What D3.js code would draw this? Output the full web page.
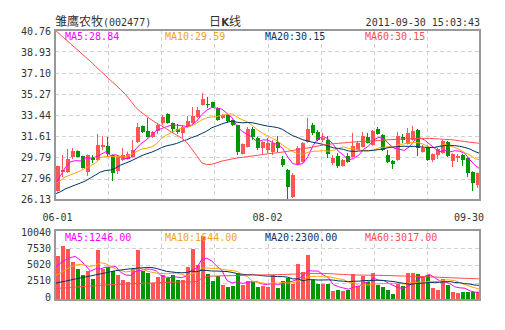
<!DOCTYPE html>
<html>
<head>
<meta charset="utf-8">
<script src="https://cdn.jsdelivr.net/npm/d3@7"></script>
<style>
  body { margin: 0; background: #fff; }
  svg { display: block; }
  .num { font-family: "DejaVu Sans Mono", "Liberation Mono", monospace; font-size: 10px; }
</style>
</head>
<body>
<svg id="chart" width="505" height="330"></svg>
<script>
// ---- chart data: 雏鹰农牧 daily K line, 2011-06-01 .. 2011-09-30 ----
const stockName = "雏鹰农牧";
const stockCode = "(002477)";
const periodTitle = ["日", "K", "线"];
const stampText = "2011-09-30 15:03:43";

const priceTicks = [26.13, 27.96, 29.79, 31.61, 33.44, 35.27, 37.10, 38.93, 40.76];
const volumeTicks = [0, 2510, 5020, 7530, 10040];
const dateTicks = ["06-01", "08-02", "09-30"];
const dateTickIndex = [0, 42, 84];

const priceLegend = ["MA5:28.84", "MA10:29.59", "MA20:30.15", "MA60:30.15"];
const volumeLegend = ["MA5:1246.00", "MA10:1644.00", "MA20:2300.00", "MA60:3017.00"];

const open = [26.90,28.54,28.54,29.83,30.35,29.92,28.54,29.74,29.57,30.69,30.78,30.00,28.63,29.57,29.66,29.83,31.12,32.50,32.07,31.55,
  32.07,32.76,33.53,32.76,32.24,31.90,32.41,32.76,33.27,34.31,34.39,34.56,34.05,33.19,33.45,33.01,32.58,30.09,30.69,32.24,
  31.47,30.61,30.43,30.26,31.12,29.66,28.71,26.39,29.23,29.40,31.12,32.58,31.98,31.29,31.29,29.31,29.92,29.06,29.92,29.83,
  30.43,30.69,31.55,30.86,32.24,31.72,30.00,29.49,29.57,31.55,30.95,31.29,32.15,30.26,30.69,29.57,30.00,30.17,31.12,29.49,
  29.74,30.00,29.74,28.54,27.42];
const high = [29.10,30.00,30.52,30.61,30.40,29.95,30.05,30.00,31.81,31.64,31.55,30.05,29.90,30.61,30.30,31.29,32.76,32.55,33.19,32.07,
  32.67,33.45,33.60,32.80,32.67,32.58,33.36,34.13,34.13,35.34,34.99,34.60,34.10,33.50,33.50,33.05,32.60,31.00,32.41,32.41,
  31.60,31.20,31.47,31.29,31.64,29.92,28.80,28.45,30.78,31.10,33.19,32.76,32.15,31.90,31.64,30.00,30.17,29.65,30.17,31.90,
  31.21,31.98,31.90,32.15,32.41,31.80,30.43,29.57,31.98,31.81,32.33,32.50,32.24,30.86,30.75,30.15,30.60,31.30,31.20,30.15,
  30.09,30.10,29.80,28.60,28.50];
const low = [26.85,28.11,28.45,29.66,29.80,28.85,28.20,29.31,29.50,30.43,29.83,27.77,28.37,29.50,29.60,29.80,31.05,31.90,31.50,31.47,
  31.81,32.58,32.70,31.90,31.81,31.47,32.35,32.70,33.20,34.25,34.05,34.05,32.95,33.10,32.76,32.50,30.00,30.05,30.65,31.29,
  30.43,30.09,30.17,30.00,30.26,28.97,26.15,26.30,29.10,29.35,31.05,31.72,31.20,31.12,29.74,29.14,28.88,29.00,29.35,29.80,
  30.40,30.65,31.00,30.80,31.75,30.35,29.31,28.80,29.50,31.04,30.90,31.25,29.92,30.20,29.50,29.40,29.66,30.10,29.83,28.97,
  29.40,29.06,28.11,26.90,27.16];
const close = [29.06,28.71,29.66,30.35,29.83,28.88,30.00,29.57,30.86,30.86,30.09,28.45,29.83,30.00,30.09,30.43,32.41,31.98,31.55,31.98,
  32.58,33.27,32.76,32.24,31.98,32.41,32.93,33.36,33.88,34.83,34.31,34.13,33.01,33.45,32.93,32.58,30.26,30.95,32.24,31.55,
  30.61,31.12,31.04,31.04,30.61,29.14,27.25,28.28,30.61,31.04,32.24,31.90,31.29,31.47,30.09,29.74,29.06,29.57,29.40,30.78,
  31.04,31.64,31.04,32.07,31.81,30.43,29.40,29.23,31.64,31.29,31.90,32.07,30.61,30.61,29.57,30.09,30.52,31.21,29.92,30.09,
  29.92,29.57,28.45,27.59,28.45];

const ma5 = [27.40,28.15,28.90,29.40,29.52,29.49,29.74,29.73,29.83,30.03,30.28,29.97,30.02,29.85,29.69,29.76,30.55,30.98,31.29,31.67,
  32.10,32.27,32.43,32.57,32.57,32.53,32.46,32.58,32.91,33.48,33.86,34.10,34.03,33.95,33.57,33.22,32.45,32.03,31.79,31.52,
  31.12,31.29,31.31,31.07,30.88,30.59,29.82,29.26,29.18,29.26,29.88,30.81,31.42,31.59,31.40,30.90,30.33,29.99,29.57,29.71,
  29.97,30.49,30.78,31.31,31.52,31.40,30.95,30.59,30.50,30.40,30.69,31.23,31.50,31.30,30.95,30.59,30.28,30.40,30.26,30.37,
  30.33,30.14,29.59,29.12,28.80];
const ma10 = [27.51,27.77,28.11,28.28,28.45,28.63,28.88,29.06,29.31,29.78,29.88,29.86,29.87,29.84,29.86,30.02,30.26,30.50,30.57,30.68,
  30.93,31.41,31.71,31.93,32.12,32.32,32.37,32.51,32.74,33.02,33.20,33.28,33.31,33.43,33.52,33.54,33.27,33.03,32.87,32.54,
  32.17,31.87,31.67,31.43,31.20,30.86,30.56,30.29,30.13,30.07,30.24,30.32,30.34,30.38,30.33,30.39,30.57,30.70,30.58,30.55,
  30.43,30.41,30.38,30.44,30.62,30.68,30.72,30.68,30.91,30.96,31.05,31.09,31.05,30.90,30.68,30.64,30.75,30.95,30.78,30.66,
  30.46,30.21,29.99,29.69,29.58];
const ma20 = [26.65,26.82,27.08,27.25,27.42,27.59,27.77,28.02,28.28,28.54,28.67,28.71,28.88,29.14,29.31,29.49,29.70,29.92,30.09,30.23,
  30.41,30.63,30.79,30.88,30.99,31.17,31.31,31.50,31.65,31.85,32.06,32.35,32.51,32.68,32.82,32.93,32.82,32.77,32.80,32.78,
  32.68,32.58,32.49,32.43,32.36,32.20,31.91,31.66,31.50,31.31,31.20,31.09,31.01,30.91,30.77,30.62,30.56,30.49,30.35,30.31,
  30.34,30.36,30.36,30.41,30.47,30.54,30.65,30.69,30.74,30.76,30.74,30.75,30.71,30.67,30.65,30.66,30.74,30.82,30.84,30.81,
  30.75,30.65,30.52,30.30,30.13];
const ma60 = [40.76,40.37,39.99,39.61,39.22,38.84,38.45,38.07,37.64,37.23,36.83,36.42,36.03,35.62,35.18,34.63,34.09,33.69,33.37,33.05,
  32.77,32.52,32.26,31.99,31.73,31.47,31.11,30.54,29.95,29.33,29.17,29.21,29.34,29.48,29.57,29.66,29.75,29.80,29.86,29.92,
  29.98,30.04,30.10,30.15,30.20,30.26,30.32,30.39,30.48,30.55,30.61,30.69,30.78,30.86,30.92,30.97,31.01,31.04,31.08,31.12,
  31.15,31.17,31.19,31.21,31.25,31.29,31.32,31.34,31.36,31.38,31.40,31.42,31.43,31.43,31.43,31.41,31.38,31.35,31.33,31.29,
  31.22,31.16,31.10,31.05,31.01];

const volume = [6311,7745,7315,5450,4446,3586,4159,3012,7171,4446,4733,4159,3586,2869,2582,4446,7171,4159,3873,2438,
  3299,3586,3155,3586,2869,2869,4733,7315,5020,9180,3729,2725,3442,2151,1865,2008,3729,2151,2725,2582,
  1865,2008,1865,3586,1721,2725,3155,2295,5163,4016,6454,2869,2295,2295,2295,1291,1434,1291,1434,3729,
  2008,3442,2582,3873,2151,1865,1434,861,2295,2008,3873,3873,3729,3299,3586,1721,1434,3012,2151,1148,
  1004,1148,1148,1148,1148];
const volMa5 = [4638,5259,5737,6072,6253,5708,4991,4131,4475,4475,4704,4704,4819,3959,3586,3528,4131,4245,4446,4417,
  4188,3471,3270,3213,3299,3213,3442,4274,4561,5823,5995,5594,4819,4245,2782,2438,2639,2381,2496,2639,
  2610,2266,2209,2381,2209,2381,2610,2696,3012,3471,4217,4159,4159,3586,3242,2209,1922,1721,1549,1836,
  1979,2381,2639,3127,2811,2783,2381,2037,1721,1693,2094,2582,3156,3356,3672,3242,2754,2610,2381,1893,
  1750,1693,1320,1119,1119];
const volMa10 = [3490,3850,4300,4700,5000,5100,5000,4800,5000,5364,5206,4848,4475,4217,4030,4116,4418,4532,4202,4002,
  3858,3801,3758,3830,3858,3701,3457,3772,3887,4561,4604,4518,4547,4403,4303,4217,4116,3600,3371,2711,
  2524,2453,2295,2438,2424,2496,2438,2453,2697,2840,3299,3385,3428,3299,3356,3213,3041,2940,2567,2539,
  2094,2151,2180,2338,2324,2381,2381,2338,2424,2252,2438,2482,2596,2539,2682,2668,2668,2883,2869,2783,
  2496,2223,1965,1750,1506];
const volMa20 = [2390,2550,2700,2850,3010,3150,3300,3450,3600,3750,3900,4060,4200,4300,4400,4480,4550,4600,4650,4683,
  4532,4324,4116,4023,3944,3908,3937,4152,4045,4281,4231,4160,4152,4116,4081,3959,3787,3686,3629,3636,
  3564,3485,3421,3421,3363,3356,3277,3026,3034,2775,2912,2919,2861,2869,2890,2854,2740,2697,2632,2689,
  2696,2768,2804,2818,2840,2797,2711,2639,2496,2395,2266,2316,2388,2438,2503,2524,2524,2610,2646,2517,
  2467,2352,2281,2144,2094];
const volMa60 = [1650,1700,1750,1800,1850,1900,1950,2000,2050,2100,2150,2200,2230,2260,2290,2320,2350,2380,2410,2440,
  2470,2500,2520,2540,2560,2580,2600,2620,2650,3100,3350,3420,3440,3460,3480,3500,3520,3540,3560,3580,
  3590,3600,3610,3620,3640,3660,3680,3700,3740,3780,3800,3810,3810,3800,3780,3750,3700,3660,3620,3590,
  3580,3570,3560,3550,3540,3520,3500,3480,3460,3440,3420,3400,3380,3350,3320,3290,3260,3230,3200,3170,
  3140,3110,3090,3060,3040];

// ---- styles ----
const upColor = "#ff5555", downColor = "#009600";
const maColors = ["#ff00ff", "#ffa500", "#003366", "#ff4c4c"];
const legendColors = ["#ff00ff", "#f5a21b", "#0d3364", "#ff4f4f"];
const textColor = "#333";
const frameColor = "#999";
const gridColor = "#d2d2d2";

// ---- layout ----
const left = 55, right = 480;
const priceTop = 30, priceBottom = 200;
const volTop = 230, volBottom = 300;
const N = close.length;

const svg = d3.select("#chart");

const xBand = d3.scaleBand().domain(d3.range(N)).range([left, right])
  .paddingInner(0.2).paddingOuter(0.1);
const xLine = d3.scaleLinear().domain([0, N - 1]).range([left, right]);
const yPrice = d3.scaleLinear()
  .domain([priceTicks[0], priceTicks[priceTicks.length - 1]]).range([priceBottom, priceTop]);
const yVol = d3.scaleLinear()
  .domain([0, volumeTicks[volumeTicks.length - 1]]).range([volBottom, volTop]);

const cx = i => Math.floor(xBand(i) + xBand.bandwidth() / 2) + 0.5;

// clip paths for the two panels
const defs = svg.append("defs");
defs.append("clipPath").attr("id", "clipPrice").append("rect")
  .attr("x", left).attr("y", priceTop).attr("width", right - left).attr("height", priceBottom - priceTop);
defs.append("clipPath").attr("id", "clipVol").append("rect")
  .attr("x", left).attr("y", volTop).attr("width", right - left).attr("height", volBottom - volTop);

// ---- header ----
const header = svg.append("g").attr("fill", textColor);
const t1 = header.append("text").attr("x", left).attr("y", 26);
t1.append("tspan").attr("font-family", "'Noto Sans CJK SC'").attr("font-size", 12).text(stockName);
t1.append("tspan").attr("class", "num").text(stockCode);

const t2 = header.append("text").attr("x", 225).attr("y", 26).attr("text-anchor", "middle")
  .attr("font-family", "'Noto Sans CJK SC'").attr("font-size", 12);
t2.append("tspan").text(periodTitle[0]);
t2.append("tspan").attr("font-weight", "bold").attr("font-family", "'DejaVu Sans'").attr("font-size", 10).text(periodTitle[1]);
t2.append("tspan").text(periodTitle[2]);

header.append("text").attr("class", "num").attr("x", right).attr("y", 26)
  .attr("text-anchor", "end").text(stampText);

// ---- grids ----
const vGrid = d3.range(1, 8).map(k => left + k * (right - left) / 8);

function drawGrid(yScale, ticks, top, bottom) {
  const g = svg.append("g").attr("stroke", gridColor).attr("stroke-dasharray", "4,3")
    .attr("shape-rendering", "crispEdges");
  g.selectAll("line.h").data(ticks.slice(1, -1)).join("line").attr("class", "h")
    .attr("x1", left).attr("x2", right)
    .attr("y1", d => Math.round(yScale(d)) + 0.5).attr("y2", d => Math.round(yScale(d)) + 0.5);
  g.selectAll("line.v").data(vGrid).join("line").attr("class", "v")
    .attr("x1", d => Math.round(d) + 0.5).attr("x2", d => Math.round(d) + 0.5)
    .attr("y1", top).attr("y2", bottom);
}
drawGrid(yPrice, priceTicks, priceTop, priceBottom);
drawGrid(yVol, volumeTicks, volTop, volBottom);

// ---- axes labels ----
const yPriceLabel = yPrice.copy().range([priceBottom - 1, priceTop + 1]);
const priceAxis = svg.append("g").attr("transform", `translate(${left},0)`)
  .call(d3.axisLeft(yPriceLabel).tickValues(priceTicks).tickFormat(d3.format(".2f")).tickSize(0).tickPadding(4));
const yVolLabel = yVol.copy().range([volBottom - 3, volTop + 2]);
const volAxis = svg.append("g").attr("transform", `translate(${left},0)`)
  .call(d3.axisLeft(yVolLabel).tickValues(volumeTicks).tickFormat(d3.format("d")).tickSize(0).tickPadding(4));
[priceAxis, volAxis].forEach(a => {
  a.select(".domain").remove();
  a.selectAll("text").attr("class", "num").attr("fill", textColor).attr("font-family", null).attr("font-size", null);
  a.attr("font-family", null).attr("font-size", null);
});

// date labels under the price panel
svg.append("g").selectAll("text").data(dateTicks).join("text")
  .attr("class", "num").attr("fill", textColor)
  .attr("y", 221)
  .attr("x", (d, k) => Math.min(cx(dateTickIndex[k]), right - 11))
  .attr("text-anchor", "middle")
  .text(d => d);

// ---- candles ----
const candles = svg.append("g").attr("clip-path", "url(#clipPrice)");
const cg = candles.selectAll("g").data(d3.range(N)).join("g")
  .attr("fill", i => close[i] >= open[i] ? upColor : downColor)
  .attr("stroke", i => close[i] >= open[i] ? upColor : downColor);
cg.append("line")
  .attr("x1", cx).attr("x2", cx)
  .attr("y1", i => yPrice(high[i])).attr("y2", i => yPrice(low[i]))
  .attr("stroke-width", 1);
cg.append("rect")
  .attr("stroke", "none")
  .attr("shape-rendering", "crispEdges")
  .attr("x", i => Math.round(xBand(i)))
  .attr("width", Math.round(xBand.bandwidth()))
  .attr("y", i => yPrice(Math.max(open[i], close[i])))
  .attr("height", i => Math.max(1, Math.abs(yPrice(open[i]) - yPrice(close[i]))));

// ---- moving average lines (MA5, MA10, MA20, MA60) ----
function drawLines(series, yScale, clip) {
  const g = svg.append("g").attr("clip-path", clip).attr("fill", "none").attr("stroke-width", 1);
  series.forEach((s, k) => {
    g.append("path")
      .attr("stroke", maColors[k])
      .attr("d", d3.line().x((d, i) => xLine(i)).y(d => yScale(d))(s));
  });
}
drawLines([ma5, ma10, ma20, ma60], yPrice, "url(#clipPrice)");

// ---- volume bars ----
svg.append("g").attr("clip-path", "url(#clipVol)").attr("shape-rendering", "crispEdges")
  .selectAll("rect").data(d3.range(N)).join("rect")
  .attr("fill", i => close[i] >= open[i] ? upColor : downColor)
  .attr("x", i => Math.round(xBand(i)))
  .attr("width", Math.round(xBand.bandwidth()))
  .attr("y", i => yVol(volume[i]))
  .attr("height", i => volBottom - yVol(volume[i]));

drawLines([volMa5, volMa10, volMa20, volMa60], yVol, "url(#clipVol)");

// ---- frames ----
[[priceTop, priceBottom], [volTop, volBottom]].forEach(([t, b]) => {
  svg.append("rect").attr("x", left).attr("y", t).attr("width", right - left).attr("height", b - t)
    .attr("fill", "none").attr("stroke", frameColor).attr("stroke-width", 2);
});

// ---- legends ----
function drawLegend(labels, y) {
  svg.append("g").selectAll("text").data(labels).join("text")
    .attr("class", "num")
    .attr("x", (d, k) => left + 10 + k * 100)
    .attr("y", y)
    .attr("fill", (d, k) => legendColors[k])
    .text(d => d);
}
drawLegend(priceLegend, 40);
drawLegend(volumeLegend, 241);
</script>
</body>
</html>
